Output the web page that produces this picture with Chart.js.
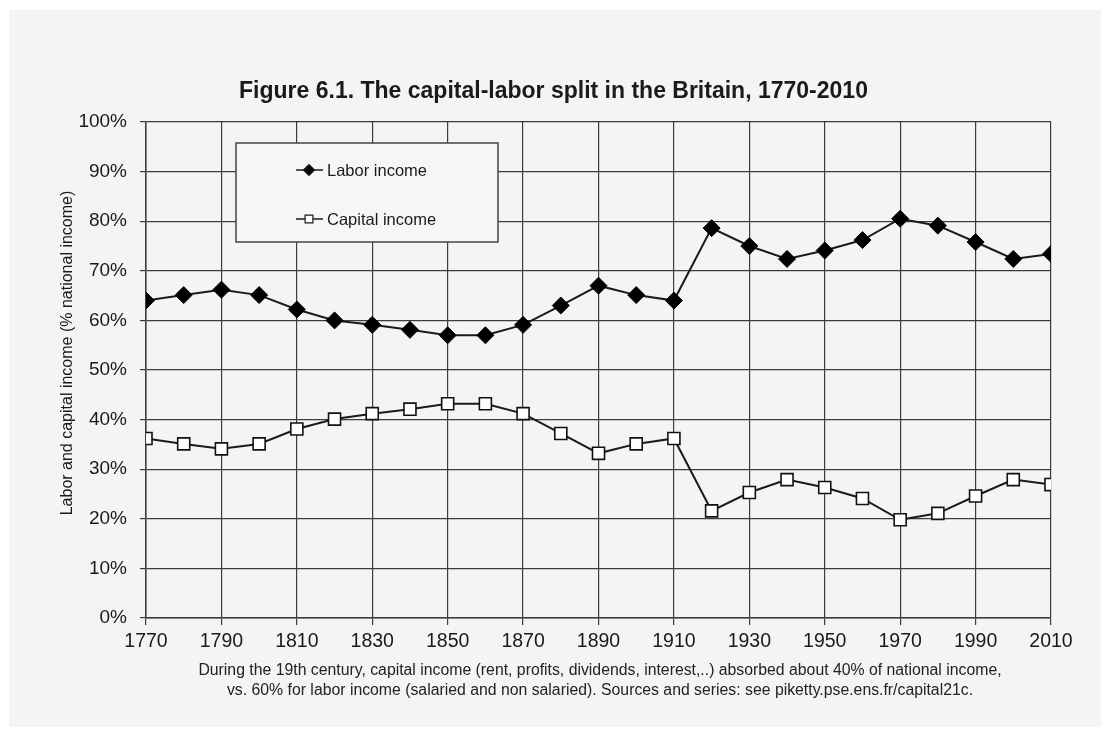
<!DOCTYPE html>
<html>
<head>
<meta charset="utf-8">
<script src="https://cdn.jsdelivr.net/npm/chart.js@4.4.1/dist/chart.umd.min.js"></script>
<style>
  html, body { margin: 0; padding: 0; background: #ffffff; }
  #panel { position: absolute; left: 9px; top: 10px; width: 1092px; height: 717px; background: #f4f4f4; }
  #chart { position: absolute; left: 0; top: 0; }
  #note { position: absolute; left: 100px; top: 660px; width: 1000px; text-align: center;
          font-family: 'Liberation Sans', Arial, sans-serif; font-size: 15.8px; line-height: 20px; color: #222; }
</style>
</head>
<body>
<div id="panel"></div>
<canvas id="chart" width="1112" height="737"></canvas>
<div id="note">During the 19th century, capital income (rent, profits, dividends, interest,..) absorbed about 40% of national income,<br>vs. 60% for labor income (salaried and non salaried). Sources and series: see piketty.pse.ens.fr/capital21c.</div>
<script>
// decades, shares of national income (%)
const YEARS = [1770, 1780, 1790, 1800, 1810, 1820, 1830, 1840, 1850, 1860, 1870, 1880, 1890,
               1900, 1910, 1920, 1930, 1940, 1950, 1960, 1970, 1980, 1990, 2000, 2010];
const LABOR = [64.0, 65.1, 66.2, 65.1, 62.2, 60.0, 59.1, 58.1, 57.0, 57.0, 59.1, 63.0, 67.0,
               65.1, 64.0, 78.6, 75.0, 72.4, 74.1, 76.2, 80.5, 79.1, 75.8, 72.4, 73.4];
const CAPITAL = [36.2, 35.1, 34.1, 35.1, 38.1, 40.1, 41.2, 42.1, 43.2, 43.2, 41.2, 37.2, 33.2,
                 35.1, 36.2, 21.6, 25.3, 27.9, 26.3, 24.1, 19.8, 21.1, 24.6, 27.9, 26.9];
const SERIES_NAMES = ['Labor income', 'Capital income'];
const TITLE = 'Figure 6.1. The capital-labor split in the Britain, 1770-2010';
const Y_TITLE = 'Labor and capital income (% national income)';

const FONT = "'Liberation Sans', Arial, sans-serif";
const INK = '#1a1a1a';
const GRID = '#3c3c3c';

// boxed legend in the upper left of the plot, like the original
const boxLegend = {
  id: 'boxLegend',
  afterDatasetsDraw(chart) {
    const ctx = chart.ctx;
    const x0 = 236, y0 = 143, w = 262, h = 99;
    ctx.save();
    ctx.fillStyle = '#f6f6f6';
    ctx.fillRect(x0, y0, w, h);
    ctx.strokeStyle = '#444';
    ctx.lineWidth = 1.5;
    ctx.strokeRect(x0, y0, w, h);
    chart.data.datasets.forEach((ds, i) => {
      const y = y0 + 27 + i * 49;
      ctx.strokeStyle = INK;
      ctx.lineWidth = 1.5;
      ctx.beginPath(); ctx.moveTo(x0 + 60, y); ctx.lineTo(x0 + 87, y); ctx.stroke();
      ctx.fillStyle = ds.pointBackgroundColor;
      ctx.lineWidth = 1.2;
      Chart.helpers.drawPoint(ctx, { pointStyle: ds.pointStyle, radius: 5.5, borderWidth: 1.2 }, x0 + 73, y);
      ctx.fillStyle = INK;
      ctx.font = '16.5px ' + FONT;
      ctx.textBaseline = 'middle';
      ctx.fillText(ds.label, x0 + 91, y + 1);
    });
    ctx.restore();
  }
};

// rotated y-axis caption, sits a little above the middle of the plot in the original
const yCaption = {
  id: 'yCaption',
  afterDraw(chart) {
    const ctx = chart.ctx;
    ctx.save();
    ctx.translate(68, 353);
    ctx.rotate(-Math.PI / 2);
    ctx.fillStyle = INK;
    ctx.font = '16px ' + FONT;
    ctx.textAlign = 'center';
    ctx.textBaseline = 'middle';
    ctx.fillText(Y_TITLE, 0, 0);
    ctx.restore();
  }
};

new Chart(document.getElementById('chart'), {
  type: 'line',
  data: {
    datasets: [
      { label: SERIES_NAMES[0], data: YEARS.map((yr, i) => ({ x: yr, y: LABOR[i] })),
        borderColor: INK, borderWidth: 2, pointStyle: 'rectRot', pointRadius: 8.5,
        pointBackgroundColor: '#000', pointBorderColor: '#000', pointBorderWidth: 1 },
      { label: SERIES_NAMES[1], data: YEARS.map((yr, i) => ({ x: yr, y: CAPITAL[i] })),
        borderColor: INK, borderWidth: 2, pointStyle: 'rect', pointRadius: 8.5,
        pointBackgroundColor: '#fff', pointBorderColor: '#111', pointBorderWidth: 1.6 }
    ]
  },
  options: {
    responsive: false,
    animation: false,
    layout: { padding: { left: 56, right: 61, top: 0, bottom: 79 } },
    plugins: {
      legend: { display: false },
      tooltip: { enabled: false },
      title: { display: true, text: TITLE, color: INK, font: { family: FONT, size: 23, weight: 'bold' },
               padding: { top: 78, bottom: 16.4 } }
    },
    scales: {
      x: {
        type: 'linear', min: 1770, max: 2010,
        ticks: { stepSize: 20, color: INK, padding: 5, font: { family: FONT, size: 19.5 }, callback: v => String(v) },
        grid: { color: GRID, lineWidth: 1.2, borderDash: [12, 2.5], tickLength: 7, tickColor: GRID, tickBorderDash: [] },
        border: { display: true, color: GRID, width: 1.5 },
        afterFit(scale) { scale.height = 40; }
      },
      y: {
        min: 0, max: 100,
        ticks: { stepSize: 10, color: INK, padding: 13, font: { family: FONT, size: 19 }, callback: v => v + '%' },
        grid: { color: GRID, lineWidth: 1.2, borderDash: [12, 2.5], tickLength: 6, tickColor: GRID, tickBorderDash: [] },
        border: { display: true, color: GRID, width: 1.5 },
        afterFit(scale) { scale.width = 90; }
      }
    }
  },
  plugins: [boxLegend, yCaption]
});
</script>
</body>
</html>
